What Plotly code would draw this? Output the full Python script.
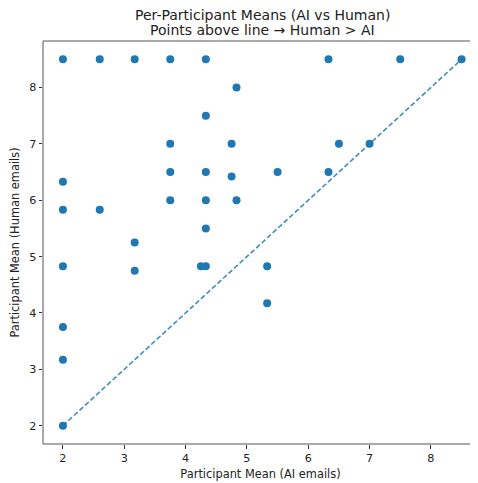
import plotly.graph_objects as go

ai_means = [2, 2.6, 3.17, 3.75, 4.33, 6.33, 7.5, 8.5,
            4.83, 4.33, 3.75, 4.75, 6.5, 7,
            2, 3.75, 4.33, 4.75, 5.5, 6.33,
            3.75, 4.33, 4.83,
            2, 2.6, 4.33, 3.17,
            2, 3.17, 4.25, 4.33, 5.33, 5.33,
            2, 2, 2]
human_means = [8.5, 8.5, 8.5, 8.5, 8.5, 8.5, 8.5, 8.5,
               8, 7.5, 7, 7, 7, 7,
               6.33, 6.5, 6.5, 6.42, 6.5, 6.5,
               6, 6, 6,
               5.83, 5.83, 5.5, 5.25,
               4.83, 4.75, 4.83, 4.83, 4.83, 4.17,
               3.75, 3.17, 2]
x_ticks = [2, 3, 4, 5, 6, 7, 8]
y_ticks = [2, 3, 4, 5, 6, 7, 8]
title_lines = ["Per-Participant Means (AI vs Human)", "Points above line → Human > AI"]

lo = min(min(ai_means), min(human_means))
hi = max(max(ai_means), max(human_means))
diag = [lo, hi]

C0 = "#1f77b4"
font = "DejaVu Sans"

# page has an 8px body margin, so the figure is drawn 8px smaller
W, H = 470, 475
ML, MT, MB = 35, 33, 39
plot_w = W - ML
plot_h = H - MT - MB

fig = go.Figure()
fig.add_trace(go.Scatter(x=ai_means, y=human_means, mode="markers",
                         marker=dict(size=8, color=C0, line=dict(width=0)),
                         showlegend=False, hoverinfo="x+y"))
fig.add_trace(go.Scatter(x=diag, y=diag, mode="lines",
                         line=dict(color="rgba(31,119,180,0.85)", width=1.6, dash="5px,2.5px"),
                         showlegend=False))

span = hi - lo
xmin = lo - 0.05 * span
ymax = hi + 0.05 * span
ymin = lo - 0.05 * span
xmax = xmin + plot_w / 61.33

axis_common = dict(showgrid=False, zeroline=False, ticks="outside", ticklen=3.5,
                   tickwidth=0.8, tickcolor="#333", showline=False,
                   tickfont=dict(family=font, size=11.2, color="#222"))

ann = []
for txt, ypix in zip(title_lines, [7.5, 22.5]):
    ann.append(dict(text=txt, xref="paper", yref="paper",
                    x=(254 - ML) / plot_w, y=1 + (MT - ypix) / plot_h,
                    xanchor="center", yanchor="middle", showarrow=False,
                    font=dict(family=font, size=14, color="#222")))

fig.update_layout(
    width=W, height=H,
    margin=dict(l=ML, r=0, t=MT, b=MB),
    paper_bgcolor="white", plot_bgcolor="white",
    font=dict(family=font, color="#222"),
    annotations=ann,
    xaxis=dict(range=[xmin, xmax], tickvals=x_ticks,
               title=dict(text="Participant Mean (AI emails)", standoff=6,
                          font=dict(family=font, size=11.4, color="#222")),
               **axis_common),
    yaxis=dict(range=[ymin, ymax], tickvals=y_ticks,
               title=dict(text="Participant Mean (Human emails)", standoff=8,
                          font=dict(family=font, size=11.4, color="#222")),
               **axis_common),
    shapes=[dict(type="rect", xref="paper", yref="paper", x0=0, x1=1.02, y0=0, y1=1,
                 line=dict(color="#555", width=1), fillcolor="rgba(0,0,0,0)", layer="above")],
)

fig.write_html("out.html")
